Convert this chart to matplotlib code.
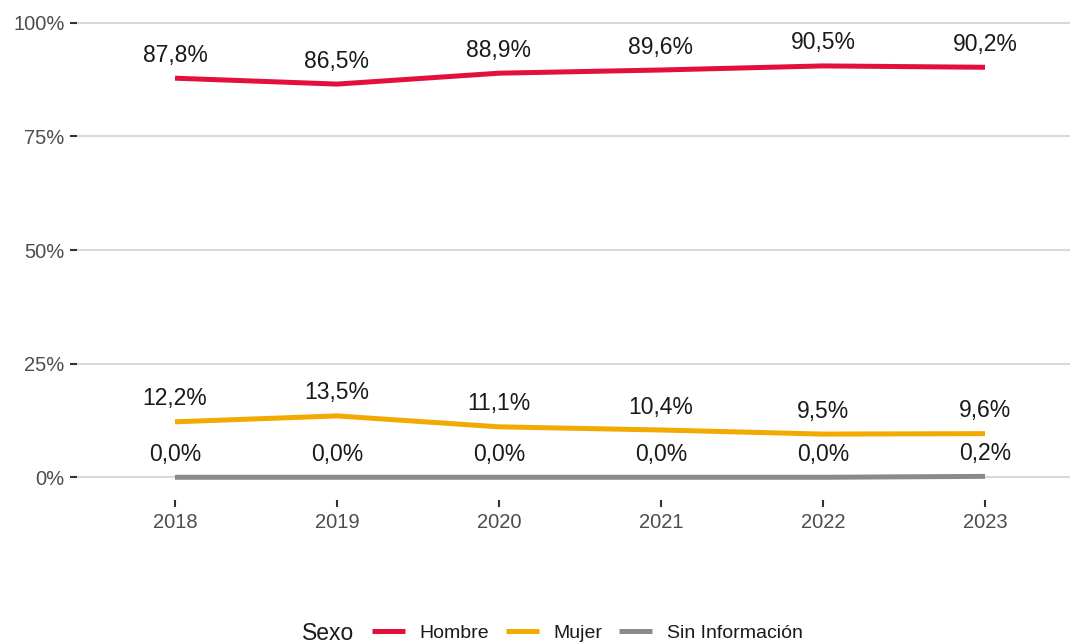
import matplotlib
matplotlib.use("Agg")
import matplotlib.pyplot as plt
from matplotlib.lines import Line2D

plt.rcParams['font.family'] = ['Liberation Sans', 'DejaVu Sans']

years = [2018, 2019, 2020, 2021, 2022, 2023]
hombre = [87.8, 86.5, 88.9, 89.6, 90.5, 90.2]
mujer = [12.2, 13.5, 11.1, 10.4, 9.5, 9.6]
sin_info = [0.0, 0.0, 0.0, 0.0, 0.0, 0.2]
series_names = ["Hombre", "Mujer", "Sin Información"]
series_values = [hombre, mujer, sin_info]
colors = ["#E4103C", "#F2A900", "#8A8A8A"]
yticks = [0, 25, 50, 75, 100]
ytick_labels = ["0%", "25%", "50%", "75%", "100%"]

W, H = 1070, 643
fig = plt.figure(figsize=(W / 100, H / 100), dpi=100)
ax = fig.add_axes([77 / W, 1 - 500 / H, (W - 77) / W, 500 / H])

for name, vals, c in zip(series_names, series_values, colors):
    ax.plot(years, vals, color=c, lw=3.6, solid_capstyle='butt', zorder=3)
    for x, v in zip(years, vals):
        ax.annotate(f"{v:.1f}%".replace(".", ","), (x, v), xytext=(0, 16.5),
                    textcoords='offset points', ha='center', va='center',
                    fontsize=16.5, color='#1a1a1a', zorder=4)

ax.set_xlim(2018 - 98 / 162, 2023 + 85 / 162)
ax.set_ylim(-5, 105)
ax.set_yticks(yticks)
ax.set_yticklabels(ytick_labels)
ax.set_xticks(years)
ax.set_xticklabels([str(y) for y in years])
ax.grid(axis='y', color='#D9D9D9', lw=1.5, zorder=1)
ax.grid(axis='x', visible=False)
for s in ax.spines.values():
    s.set_visible(False)
ax.tick_params(axis='both', colors='#333333', length=5, width=1.5,
               labelsize=14.5, labelcolor='#4D4D4D', pad=4)
ax.set_axisbelow(True)

ly = (H - 633) / H
fig.text(302 / W, ly, "Sexo", fontsize=16.5, color='#1a1a1a', va='center', ha='left')
handles = [Line2D([], [], color=c, lw=3.6, solid_capstyle='butt') for c in colors]
fig.legend(handles, series_names, loc='center left', bbox_to_anchor=(372 / W, ly),
           ncol=3, frameon=False, fontsize=14, handlelength=1.7, handletextpad=0.75,
           columnspacing=0.85, borderpad=0, borderaxespad=0, labelcolor='#1a1a1a')

fig.savefig("out.png", dpi=100, facecolor='white')
